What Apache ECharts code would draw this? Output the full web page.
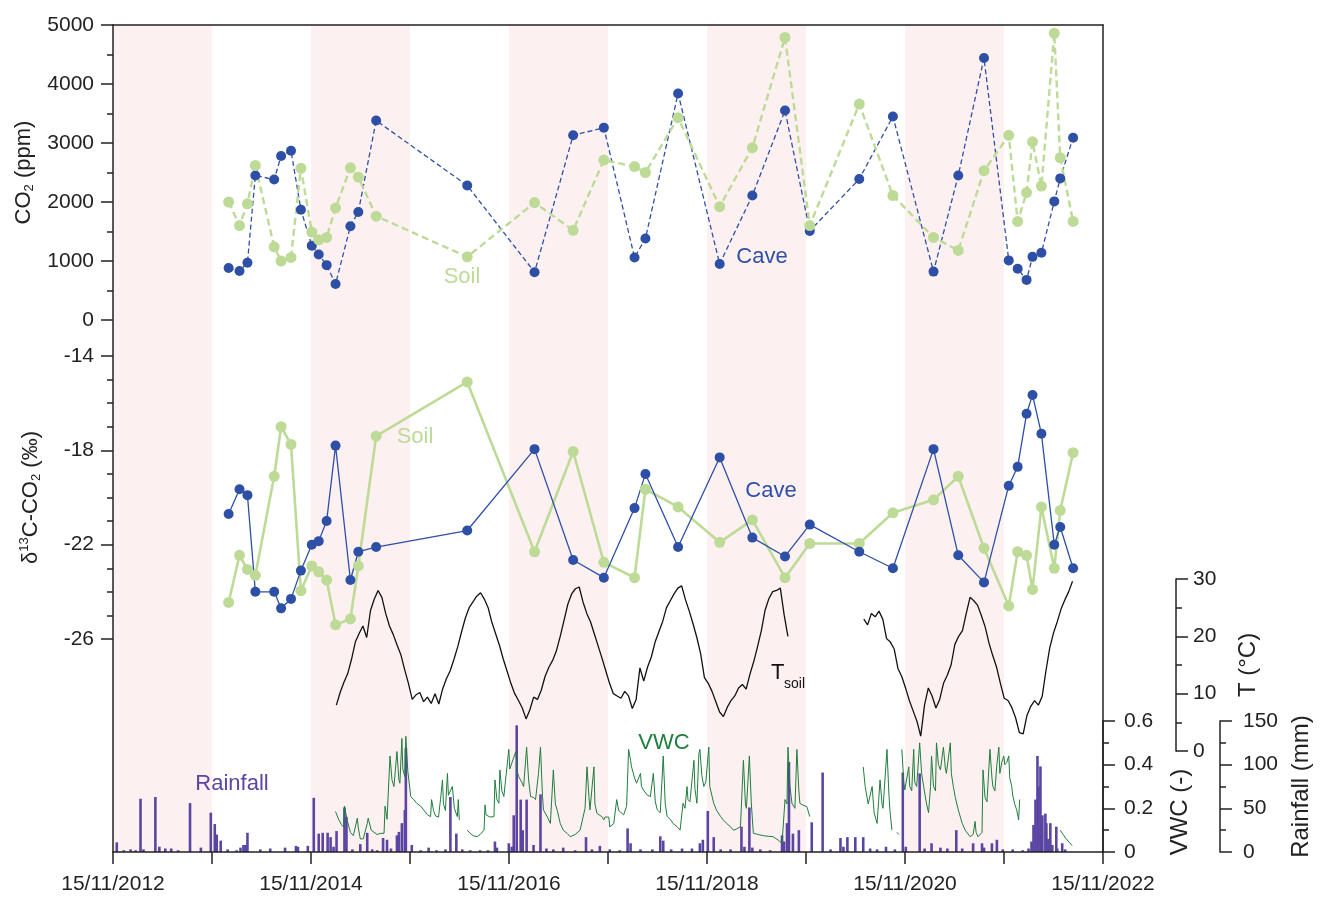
<!DOCTYPE html>
<html>
<head>
<meta charset="utf-8">
<script src="https://cdn.jsdelivr.net/npm/echarts@6/dist/echarts.min.js"></script>
<style>
html, body { margin: 0; background: #fff; }
#chart { width: 1321px; height: 898px; }
</style>
</head>
<body>
<div id="chart"></div>
<script>
// 15/11/2012 as a decimal year, the left end of the time axis
const START = 2012.872

const xTickLabels = ['15/11/2012', '15/11/2014', '15/11/2016', '15/11/2018', '15/11/2020', '15/11/2022']

// pink shaded periods, years after 15/11/2012
const shadedYears = [[0, 1], [2, 3], [4, 5], [6, 7], [8, 9]]

// sampling campaigns (decimal years)
const sampleYear = [2014.04, 2014.15, 2014.23, 2014.31, 2014.50, 2014.57, 2014.67, 2014.77, 2014.88, 2014.95,
  2015.03, 2015.12, 2015.27, 2015.35, 2015.53, 2016.45, 2017.13, 2017.52, 2017.83, 2018.14,
  2018.25, 2018.58, 2019.00, 2019.33, 2019.66, 2019.91, 2020.41, 2020.75, 2021.16, 2021.41,
  2021.67, 2021.92, 2022.01, 2022.10, 2022.16, 2022.25, 2022.38, 2022.44, 2022.57]

const co2Cave = [880, 830, 970, 2450, 2380, 2780, 2870, 1870, 1260, 1110,
  930, 610, 1590, 1830, 3380, 2280, 810, 3130, 3260, 1060,
  1380, 3840, 950, 2110, 3550, 1510, 2390, 3450, 820, 2450,
  4440, 1010, 870, 680, 1070, 1140, 2010, 2400, 3090]

const co2Soil = [2000, 1600, 1970, 2620, 1240, 1000, 1060, 2570, 1490, 1360,
  1400, 1900, 2580, 2420, 1760, 1070, 1990, 1520, 2710, 2600,
  2500, 3430, 1920, 2920, 4790, 1600, 3660, 2110, 1400, 1180,
  2530, 3130, 1670, 2160, 3020, 2270, 4860, 2750, 1670]

const d13cCave = [-20.7, -19.65, -19.9, -24.0, -24.0, -24.7, -24.3, -23.1, -22.0, -21.85,
  -21.0, -17.8, -23.5, -22.3, -22.1, -21.4, -17.95, -22.65, -23.4, -20.45,
  -19.0, -22.1, -18.3, -21.7, -22.5, -21.15, -22.3, -23.0, -17.95, -22.45,
  -23.6, -19.5, -18.7, -16.45, -15.65, -17.3, -22.0, -21.25, -23.0]

const d13cSoil = [-24.45, -22.45, -23.05, -23.3, -19.1, -17.0, -17.75, -23.95, -22.9, -23.15,
  -23.5, -25.4, -25.15, -22.9, -17.4, -15.1, -22.3, -18.05, -22.75, -23.4,
  -19.65, -20.4, -21.9, -20.95, -23.4, -21.95, -21.95, -20.65, -20.1, -19.1,
  -22.15, -24.6, -22.3, -22.45, -23.9, -20.4, -23.0, -20.55, -18.1]

// soil temperature logger, one reading every 14 days from tStartYear (null = no data)
const tStartYear = 2015.128
const tStepDays = 14
const tSoil = [
  8.0, 10.2, 12.0, 13.5, 16.0, 19.0, 20.5, 21.8, 19.8, 24.5,
  26.5, 28.0, 26.8, 24.0, 21.8, 20.3, 18.5, 16.8, 14.2, 11.8,
  9.0, 9.8, 10.2, 8.6, 9.4, 8.3, 10.0, 8.2, 10.8, 12.6,
  14.0, 16.0, 18.2, 20.8, 23.2, 25.0, 26.0, 27.0, 27.6, 26.5,
  25.0, 22.4, 20.4, 18.4, 16.0, 13.9, 11.8, 10.0, 8.8, 7.5,
  5.6, 7.2, 9.4, 9.0, 10.6, 13.0, 14.6, 15.8, 17.5, 20.0,
  22.8, 25.6, 27.4, 28.3, 28.6, 26.0, 24.0, 22.5, 20.4, 18.3,
  16.2, 14.0, 11.8, 10.0, 9.6, 9.2, 10.4, 9.6, 7.4, 9.0,
  14.5, 12.2, 14.6, 16.4, 19.0, 20.8, 22.6, 25.0, 26.2, 27.4,
  28.4, 28.8, 26.4, 24.4, 22.2, 19.8, 17.0, 12.8, 11.8, 10.4,
  8.6, 6.8, 6.0, 7.6, 8.8, 9.6, 11.0, 11.6, 10.8, 13.4,
  15.6, 18.2, 21.0, 24.6, 26.6, 27.8, 28.0, 28.4, 23.8, 20.0,
  null, null, null, null, null, null, null, null, null, null,
  null, null, null, null, null, null, null, null, null,
  23.0, 22.0, 24.0, 23.4, 24.4, 23.0, 19.6, 19.0, 17.8, 14.4,
  13.0, 11.0, 8.8, 7.0, 5.2, 2.6, 8.0, 11.0, 9.6, 7.5,
  9.0, 11.8, 13.2, 15.0, 18.6, 20.0, 21.0, 24.0, 26.8, 26.2,
  25.4, 23.6, 21.6, 18.8, 16.6, 14.6, 11.8, 9.2, 8.8, 7.6,
  5.8, 3.2, 3.0, 6.2, 7.8, 8.8, 8.0, 9.5, 14.0, 18.0,
  20.6, 22.6, 24.8, 26.4, 27.8, 29.6
]

// soil volumetric water content [decimal year, VWC]; null breaks the line
const vwc = [
  [2015.12, .185], [2015.15, .15], [2015.18, .125], [2015.20, .115], [2015.21, .21], [2015.24, .14],
  [2015.27, .09], [2015.30, .075], [2015.34, .155], [2015.35, .11], [2015.37, .06], [2015.40, .06],
  [2015.44, .13], [2015.45, .155], [2015.48, .10], [2015.54, .08], [2015.57, .085], [2015.61, .086],
  [2015.62, .21], [2015.64, .15], [2015.67, .44], [2015.69, .33], [2015.71, .30], [2015.74, .46],
  [2015.76, .33], [2015.77, .315], [2015.79, .52], [2015.80, .38], [2015.82, .345], [2015.83, .53],
  [2015.85, .37], [2015.88, .254], [2015.91, .24], [2015.94, .223], [2015.98, .21], [2016.01, .193],
  [2016.05, .17], [2016.08, .162], [2016.09, .24], [2016.11, .19], [2016.13, .165], [2016.16, .16],
  [2016.18, .24], [2016.20, .33], [2016.21, .22], [2016.23, .19], [2016.25, .36], [2016.26, .26],
  [2016.28, .254], [2016.30, .30], [2016.32, .20], [2016.35, .162], [2016.36, .24], [2016.37, .147],
  [2016.41, null],
  [2016.45, .10], [2016.48, .085], [2016.51, .075], [2016.55, .07], [2016.58, .08], [2016.62, .10],
  [2016.63, .216], [2016.64, .17], [2016.68, .16], [2016.72, .162], [2016.73, .33], [2016.75, .24],
  [2016.77, .223], [2016.78, .376], [2016.80, .28], [2016.82, .254], [2016.84, .25], [2016.87, .47],
  [2016.88, .38], [2016.90, .376], [2016.94, .46], [2016.96, .36], [2016.97, .345], [2017.00, .32],
  [2017.02, .30], [2017.05, .48], [2017.07, .33], [2017.09, .254], [2017.12, .25], [2017.14, .24],
  [2017.17, .36], [2017.19, .48], [2017.21, .26], [2017.22, .193], [2017.26, .16], [2017.29, .131],
  [2017.32, .376], [2017.34, .22], [2017.36, .19], [2017.39, .13], [2017.42, .10], [2017.46, .085],
  [2017.49, .07], [2017.54, .08], [2017.59, .10], [2017.64, .20], [2017.66, .39], [2017.68, .25],
  [2017.69, .193], [2017.73, .39], [2017.74, .22], [2017.76, .177], [2017.81, .162], [2017.83, .147],
  [2017.84, .16], [2017.88, .16], [2017.89, .115], [2017.93, .13], [2017.96, .24], [2017.98, .19],
  [2018.00, .19], [2018.03, .17], [2018.06, .21], [2018.08, .47], [2018.10, .42], [2018.11, .39],
  [2018.14, .34], [2018.16, .315], [2018.20, .36], [2018.21, .30], [2018.23, .284], [2018.27, .26],
  [2018.30, .254], [2018.33, .36], [2018.35, .23], [2018.37, .193], [2018.40, .18], [2018.43, .44],
  [2018.45, .22], [2018.47, .162], [2018.50, .15], [2018.53, .13], [2018.57, .116], [2018.60, .10],
  [2018.63, .223], [2018.65, .20], [2018.67, .30], [2018.68, .24], [2018.70, .23], [2018.74, .42],
  [2018.75, .29], [2018.77, .223], [2018.79, .45], [2018.80, .47], [2018.82, .35], [2018.84, .30],
  [2018.86, .32], [2018.89, .48], [2018.90, .30], [2018.94, .223], [2018.97, .19], [2019.01, .162],
  [2019.04, .145], [2019.07, .131], [2019.11, .115], [2019.14, .10], [2019.17, .105], [2019.21, .116],
  [2019.24, .42], [2019.26, .22], [2019.27, .20], [2019.30, .44], [2019.32, .22], [2019.34, .086],
  [2019.39, .08], [2019.44, .075], [2019.49, .072], [2019.54, .07], [2019.59, .055], [2019.63, .04],
  [2019.66, .24], [2019.68, .22], [2019.69, .48], [2019.71, .30], [2019.73, .223], [2019.76, .20],
  [2019.78, .47], [2019.80, .28], [2019.81, .223], [2019.84, .215], [2019.88, .208], [2019.91, .162],
  [2020.20, null],
  [2020.45, .39], [2020.47, .30], [2020.50, .22], [2020.52, .26], [2020.54, .30], [2020.56, .18],
  [2020.59, .131], [2020.62, .33], [2020.64, .22], [2020.65, .20], [2020.69, .47], [2020.71, .26],
  [2020.72, .19], [2020.74, .10], [2020.76, null], [2020.79, .09], [2020.81, .08], [2020.82, null],
  [2020.84, .47], [2020.86, .32], [2020.87, .284], [2020.91, .39], [2020.92, .30], [2020.94, .28],
  [2020.96, .47], [2020.97, .32], [2020.99, .30], [2021.02, .50], [2021.04, .36], [2021.06, .30],
  [2021.09, .22], [2021.11, .18], [2021.13, .30], [2021.14, .44], [2021.16, .30], [2021.18, .28],
  [2021.19, .50], [2021.21, .40], [2021.23, .376], [2021.26, .48], [2021.28, .38], [2021.29, .36],
  [2021.33, .50], [2021.34, .36], [2021.36, .30], [2021.38, .25], [2021.41, .193], [2021.45, .131],
  [2021.48, .10], [2021.53, .07], [2021.56, .08], [2021.58, .14], [2021.59, .09], [2021.61, .07],
  [2021.65, .09], [2021.66, .376], [2021.68, .25], [2021.70, .23], [2021.73, .47], [2021.75, .34],
  [2021.76, .30], [2021.78, .28], [2021.80, .40], [2021.82, .48], [2021.83, .36], [2021.85, .41],
  [2021.87, .44], [2021.88, .40], [2021.90, .41], [2021.92, .44], [2021.93, .34], [2021.95, .30],
  [2021.96, .26], [2021.98, .22], [2022.00, .193], [2022.02, .147], [2022.03, .24],
  [2022.20, null],
  [2022.44, .10], [2022.47, .08], [2022.50, .06], [2022.53, .045], [2022.56, .03]
]

// daily rainfall events [decimal year, mm]
const rain = [
  [2012.91, 11], [2012.98, 2], [2013.05, 3], [2013.10, 2], [2013.15, 61], [2013.18, 3], [2013.30, 63],
  [2013.34, 6], [2013.40, 4], [2013.46, 4], [2013.53, 2], [2013.65, 56], [2013.76, 5], [2013.86, 45],
  [2013.90, 32], [2013.92, 20], [2013.96, 13], [2014.03, 3], [2014.12, 2], [2014.16, 5], [2014.19, 8],
  [2014.21, 8], [2014.23, 22], [2014.36, 3], [2014.46, 4], [2014.61, 5], [2014.72, 7], [2014.74, 6],
  [2014.84, 7], [2014.90, 62], [2014.95, 21], [2014.99, 22], [2015.04, 22], [2015.07, 17], [2015.10, 6],
  [2015.13, 24], [2015.21, 51], [2015.23, 40], [2015.29, 3], [2015.37, 9], [2015.44, 22], [2015.49, 3],
  [2015.54, 2], [2015.60, 16], [2015.64, 14], [2015.68, 4], [2015.74, 19], [2015.76, 23], [2015.79, 33],
  [2015.82, 48], [2015.83, 119], [2015.89, 8], [2015.98, 2], [2016.06, 5], [2016.14, 2], [2016.23, 3],
  [2016.28, 63], [2016.34, 21], [2016.40, 3], [2016.48, 2], [2016.58, 2], [2016.66, 2], [2016.73, 12],
  [2016.75, 5], [2016.87, 10], [2016.90, 6], [2016.92, 42], [2016.95, 145], [2016.99, 60], [2017.01, 25],
  [2017.05, 60], [2017.12, 8], [2017.19, 66], [2017.25, 4], [2017.32, 3], [2017.42, 5], [2017.54, 2],
  [2017.65, 17], [2017.71, 3], [2017.79, 7], [2017.89, 3], [2017.99, 2], [2018.07, 27], [2018.10, 10],
  [2018.20, 3], [2018.32, 3], [2018.40, 18], [2018.43, 13], [2018.51, 3], [2018.62, 4], [2018.72, 4],
  [2018.80, 10], [2018.83, 14], [2018.88, 47], [2018.94, 17], [2019.01, 3], [2019.11, 3], [2019.22, 29],
  [2019.25, 6], [2019.30, 51], [2019.33, 5], [2019.41, 3], [2019.51, 2], [2019.63, 19], [2019.65, 12],
  [2019.68, 33], [2019.70, 103], [2019.74, 21], [2019.80, 25], [2019.93, 34], [2020.04, 91], [2020.12, 3],
  [2020.22, 16], [2020.25, 6], [2020.29, 17], [2020.37, 17], [2020.45, 17], [2020.52, 4], [2020.59, 3],
  [2020.68, 6], [2020.77, 3], [2020.85, 91], [2020.88, 6], [2021.02, 90], [2021.07, 4], [2021.14, 10],
  [2021.23, 5], [2021.30, 4], [2021.39, 25], [2021.45, 4], [2021.56, 10], [2021.65, 10], [2021.67, 5],
  [2021.75, 10], [2021.80, 14], [2021.86, 3], [2021.96, 3], [2022.06, 2], [2022.12, 4], [2022.15, 12],
  [2022.17, 31], [2022.19, 60], [2022.21, 110], [2022.22, 75], [2022.24, 98], [2022.25, 30], [2022.26, 42],
  [2022.29, 44], [2022.30, 33], [2022.32, 15], [2022.34, 33], [2022.36, 8], [2022.40, 29], [2022.41, 4],
  [2022.46, 10], [2022.49, 3]
]

const CAVE = '#2d4fa5'
const SOIL = '#bddb96'
const VWC = '#1f7d3d'
const RAIN = '#5a45a3'
const INK = '#222'

const toX = y => y - START
const pairs = (xs, ys) => xs.map((x, i) => [toX(x), ys[i]])
const tData = tSoil.map((v, i) => [toX(tStartYear) + i * tStepDays / 365.25, v])
const vwcData = vwc.map(d => [toX(d[0]), d[1]])
const rainData = rain.map(d => [toX(d[0]), d[1]])

const line = { color: INK, width: 1.5 }
function yAxis(o) {
  return Object.assign({
    type: 'value',
    splitLine: { show: false },
    axisLine: { show: false, onZero: false, lineStyle: line },
    axisTick: { show: true, length: 12, lineStyle: line },
    minorTick: { show: true, splitNumber: 2, length: 6, lineStyle: line },
    axisLabel: { fontSize: 21, color: INK, margin: 19, formatter: v => String(v) },
    nameLocation: 'middle',
    nameRotate: 90,
    nameTextStyle: {
      fontSize: 22, color: INK,
      rich: {
        sub: { fontSize: 13, padding: [12, 0, 0, 0] },
        sup: { fontSize: 13, padding: [0, 0, 12, 0] }
      }
    },
    z: 5
  }, o)
}
function hiddenX(i) {
  return { gridIndex: i, type: 'value', min: 0, max: 10, show: false }
}
const gridBox = { left: 113, right: 218 }
const shownLine = { show: true, onZero: false, lineStyle: line }

const chart = echarts.init(document.getElementById('chart'))
chart.setOption({
  animation: false,
  textStyle: { fontFamily: 'Liberation Sans, Arial, sans-serif' },
  grid: [
    Object.assign({ top: 25, bottom: 46 }, gridBox),
    Object.assign({ top: 25, height: 295 }, gridBox),
    Object.assign({ top: 356, height: 283 }, gridBox),
    Object.assign({ top: 579, height: 172 }, gridBox),
    Object.assign({ top: 721, height: 131 }, gridBox)
  ],
  xAxis: [
    {
      gridIndex: 0, type: 'value', min: 0, max: 10, position: 'top', z: 5,
      axisLine: shownLine,
      axisTick: { show: false }, axisLabel: { show: false }, splitLine: { show: false }
    },
    hiddenX(1), hiddenX(2), hiddenX(3),
    {
      gridIndex: 4, type: 'value', min: 0, max: 10, interval: 1, z: 5,
      axisLine: shownLine,
      axisTick: { show: true, length: 12, lineStyle: line },
      splitLine: { show: false },
      axisLabel: {
        fontSize: 21, color: INK, margin: 22, showMaxLabel: true,
        formatter: v => (Math.round(v) % 2 === 0 ? xTickLabels[Math.round(v) / 2] : '')
      }
    }
  ],
  yAxis: [
    {
      gridIndex: 0, type: 'value', min: 0, max: 1, position: 'left', z: 5,
      axisLine: shownLine,
      axisTick: { show: false }, axisLabel: { show: false }, splitLine: { show: false }
    },
    {
      gridIndex: 0, type: 'value', min: 0, max: 1, position: 'right', z: 5,
      axisLine: shownLine,
      axisTick: { show: false }, axisLabel: { show: false }, splitLine: { show: false }
    },
    yAxis({ gridIndex: 1, min: 0, max: 5000, interval: 1000, name: 'CO{sub|2} (ppm)', nameGap: 60 }),
    yAxis({
      gridIndex: 2, min: -26, max: -14, interval: 4, name: 'δ{sup|13}C-CO{sub|2} (‰)', nameGap: 70,
      minorTick: { show: true, splitNumber: 4, length: 6, lineStyle: line }
    }),
    yAxis({
      gridIndex: 3, min: 0, max: 30, interval: 10, position: 'right', offset: 73,
      axisLine: shownLine,
      axisLabel: { fontSize: 21, color: INK, margin: 17, showMinLabel: true },
      name: 'T (°C)', nameGap: 60, nameTextStyle: { fontSize: 24, color: INK }
    }),
    yAxis({
      gridIndex: 4, min: 0, max: 0.6, interval: 0.2, position: 'right',
      axisLine: shownLine,
      axisLabel: { fontSize: 21, color: INK, margin: 21 }
    }),
    yAxis({
      gridIndex: 4, min: 0, max: 150, interval: 50, position: 'right', offset: 117,
      axisLine: shownLine,
      axisLabel: { fontSize: 21, color: INK, margin: 23 },
      name: 'Rainfall (mm)', nameGap: 62, nameTextStyle: { fontSize: 24, color: INK }
    })
  ],
  series: [
    {
      type: 'custom', xAxisIndex: 0, yAxisIndex: 0, z: 1, silent: true,
      data: shadedYears,
      renderItem: (params, api) => {
        const a = api.coord([api.value(0), 1])
        const b = api.coord([api.value(1), 0])
        return { type: 'rect', shape: { x: a[0], y: a[1], width: b[0] - a[0], height: b[1] - a[1] }, style: { fill: '#fcf0f0' } }
      }
    },
    {
      type: 'line', xAxisIndex: 1, yAxisIndex: 2, data: pairs(sampleYear, co2Cave),
      symbol: 'circle', symbolSize: 10, itemStyle: { color: CAVE },
      lineStyle: { color: CAVE, width: 1.3, type: [5, 3] }
    },
    {
      type: 'line', xAxisIndex: 1, yAxisIndex: 2, data: pairs(sampleYear, co2Soil),
      symbol: 'circle', symbolSize: 11, itemStyle: { color: SOIL },
      lineStyle: { color: SOIL, width: 2.4, type: [7, 4] }
    },
    {
      type: 'line', xAxisIndex: 2, yAxisIndex: 3, data: pairs(sampleYear, d13cSoil),
      symbol: 'circle', symbolSize: 11, itemStyle: { color: SOIL },
      lineStyle: { color: SOIL, width: 2.6 }
    },
    {
      type: 'line', xAxisIndex: 2, yAxisIndex: 3, data: pairs(sampleYear, d13cCave),
      symbol: 'circle', symbolSize: 10, itemStyle: { color: CAVE },
      lineStyle: { color: CAVE, width: 1.3 }
    },
    {
      type: 'line', xAxisIndex: 3, yAxisIndex: 4, data: tData, showSymbol: false,
      connectNulls: false, lineStyle: { color: '#111', width: 1.3 }
    },
    {
      type: 'bar', xAxisIndex: 4, yAxisIndex: 6, data: rainData, barWidth: 2.6,
      itemStyle: { color: RAIN }
    },
    {
      type: 'line', xAxisIndex: 4, yAxisIndex: 5, data: vwcData, showSymbol: false,
      connectNulls: false, lineStyle: { color: VWC, width: 1 }
    }
  ],
  graphic: [
    { type: 'text', z: 10, x: 462, y: 277, style: { text: 'Soil', fill: SOIL, font: '22px "Liberation Sans"', align: 'center', verticalAlign: 'middle' } },
    { type: 'text', z: 10, x: 762, y: 257, style: { text: 'Cave', fill: CAVE, font: '22px "Liberation Sans"', align: 'center', verticalAlign: 'middle' } },
    { type: 'text', z: 10, x: 415, y: 437, style: { text: 'Soil', fill: SOIL, font: '22px "Liberation Sans"', align: 'center', verticalAlign: 'middle' } },
    { type: 'text', z: 10, x: 771, y: 491, style: { text: 'Cave', fill: CAVE, font: '22px "Liberation Sans"', align: 'center', verticalAlign: 'middle' } },
    { type: 'text', z: 10, x: 771, y: 673, style: { text: 'T', fill: '#111', font: '22px "Liberation Sans"', align: 'left', verticalAlign: 'middle' } },
    { type: 'text', z: 10, x: 784, y: 684, style: { text: 'soil', fill: '#111', font: '14px "Liberation Sans"', align: 'left', verticalAlign: 'middle' } },
    { type: 'text', z: 10, x: 664, y: 743, style: { text: 'VWC', fill: VWC, font: '22px "Liberation Sans"', align: 'center', verticalAlign: 'middle' } },
    { type: 'text', z: 10, x: 232, y: 784, style: { text: 'Rainfall', fill: RAIN, font: '22px "Liberation Sans"', align: 'center', verticalAlign: 'middle' } },
    { type: 'text', z: 10, x: 1180, y: 812, rotation: Math.PI / 2, style: { text: 'VWC (-)', fill: INK, font: '24px "Liberation Sans"', align: 'center', verticalAlign: 'middle' } }
  ]
})
</script>
</body>
</html>
